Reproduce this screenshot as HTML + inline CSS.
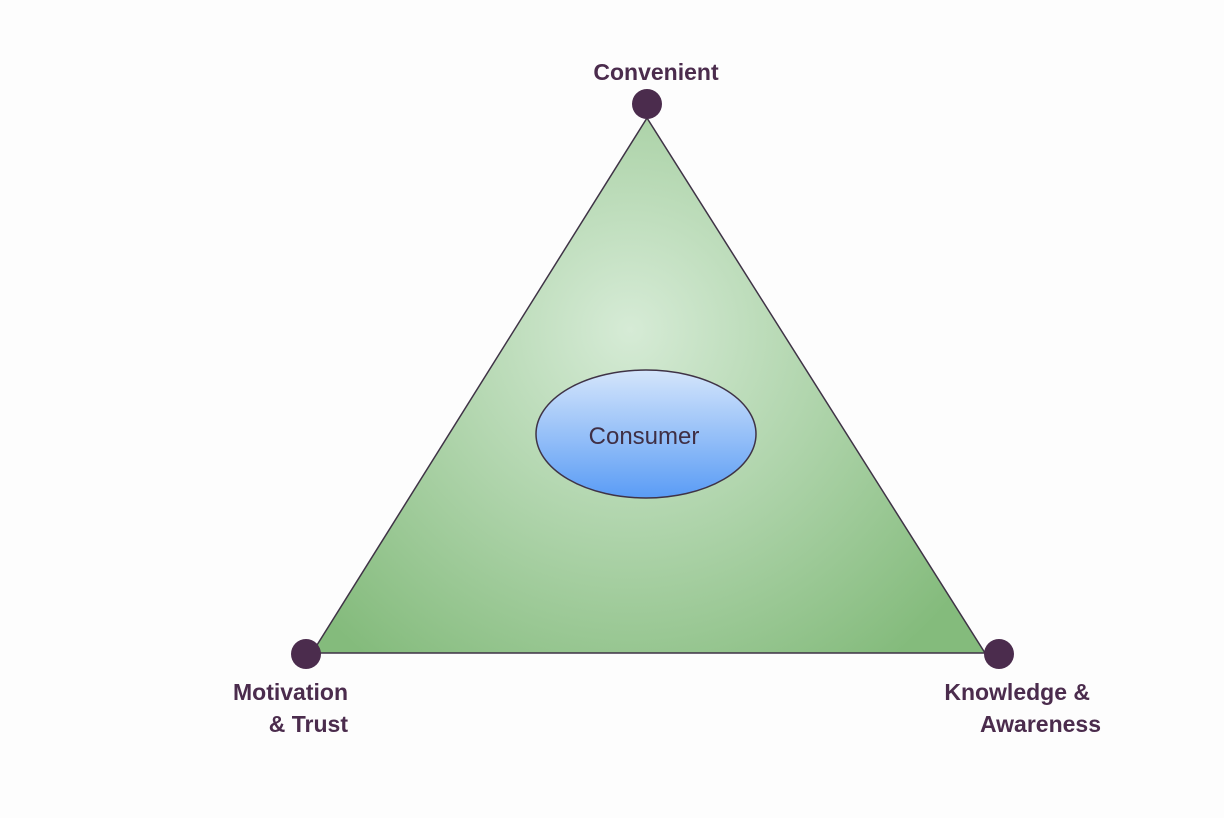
<!DOCTYPE html>
<html><head><style>
body{margin:0;background:#fdfdfd;}
svg{display:block}
text{font-family:"Liberation Sans",Arial,sans-serif;}
</style></head><body>
<svg width="1224" height="818" viewBox="0 0 1224 818">
<defs>
<radialGradient id="g" cx="630" cy="330" r="420" gradientUnits="userSpaceOnUse">
<stop offset="0" stop-color="#d6ebd6"/>
<stop offset="1" stop-color="#84bb7c"/>
</radialGradient>
<linearGradient id="e" x1="0" y1="0" x2="0" y2="1">
<stop offset="0" stop-color="#d4e5fb"/>
<stop offset="1" stop-color="#5a9cf5"/>
</linearGradient>
</defs>
<polygon points="647,118 312,653 985,653" fill="url(#g)" stroke="#3f3346" stroke-width="1.5"/>
<ellipse cx="646" cy="434" rx="110" ry="64" fill="url(#e)" stroke="#3f3346" stroke-width="1.5"/>
<text x="644" y="444" font-size="24" fill="#3f2f45" text-anchor="middle">Consumer</text>
<circle cx="647" cy="104" r="15" fill="#4b2c4d"/>
<circle cx="306" cy="654" r="15" fill="#4b2c4d"/>
<circle cx="999" cy="654" r="15" fill="#4b2c4d"/>
<g font-weight="bold" font-size="23" fill="#4b2c4d">
<text x="656" y="80" text-anchor="middle">Convenient</text>
<text x="348" y="700" text-anchor="end">Motivation</text>
<text x="348" y="732" text-anchor="end">&amp; Trust</text>
<text x="1090" y="700" text-anchor="end">Knowledge &amp;</text>
<text x="1101" y="732" text-anchor="end">Awareness</text>
</g>
</svg>
</body></html>
